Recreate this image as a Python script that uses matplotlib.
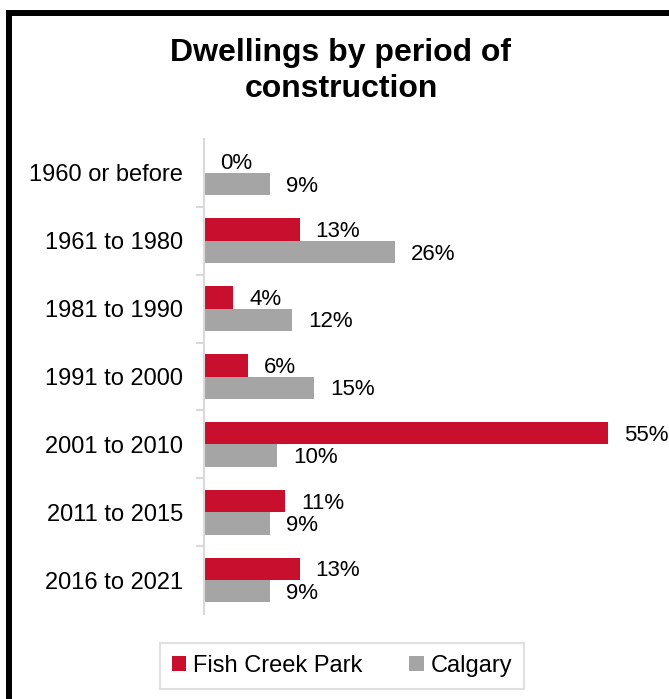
import matplotlib.pyplot as plt
from matplotlib.patches import Rectangle
from matplotlib.ticker import FixedLocator
import numpy as np

plt.rcParams['font.family'] = ['Liberation Sans', 'DejaVu Sans']

periods = ["1960 or before", "1961 to 1980", "1981 to 1990", "1991 to 2000",
           "2001 to 2010", "2011 to 2015", "2016 to 2021"]
fish_creek = [0, 13, 4, 6, 55, 11, 13]
calgary = [9, 26, 12, 15, 10, 9, 9]

RED = "#C8102E"
GRAY = "#A5A5A5"
AXIS = "#D9D9D9"

W, H = 669, 699
fig = plt.figure(figsize=(W / 100, H / 100), dpi=100)
ax = fig.add_axes([204 / W, 85 / H, 416 / W, 475 / H])

y = np.arange(len(periods))
h = 0.33
ax.barh(y - h / 2, fish_creek, height=h, color=RED, label="Fish Creek Park")
ax.barh(y + h / 2, calgary, height=h, color=GRAY, label="Calgary")

for yi, v in zip(y, fish_creek):
    ax.annotate(f"{v}%", (v, yi - h / 2), xytext=(11.5, -1.5), textcoords="offset points",
                ha="left", va="center", fontsize=16)
for yi, v in zip(y, calgary):
    ax.annotate(f"{v}%", (v, yi + h / 2), xytext=(11.5, -1.5), textcoords="offset points",
                ha="left", va="center", fontsize=16)

ax.set_xlim(0, 56.6)
ax.set_ylim(len(periods) - 0.5, -0.5)
ax.set_xticks([])
ax.set_yticks(y)
ax.set_yticklabels(periods, fontsize=17)
ax.tick_params(axis="y", which="major", length=0, pad=15)
ax.yaxis.set_minor_locator(FixedLocator(np.arange(0.5, len(periods) - 1, 1.0)))
ax.tick_params(axis="y", which="minor", length=6, color=AXIS, width=1.5)
for s in ["top", "right", "bottom"]:
    ax.spines[s].set_visible(False)
ax.spines["left"].set_color(AXIS)
ax.spines["left"].set_linewidth(1.5)

fig.text(341 / W, 1 - 71 / H, "Dwellings by period of\nconstruction", ha="center", va="center",
         fontsize=23, fontweight="bold", linespacing=1.25)

leg = fig.legend(loc="center", bbox_to_anchor=(342 / W, 1 - 666 / H), ncol=2, fontsize=17,
                 frameon=True, fancybox=False, handlelength=0.6, handleheight=0.6,
                 handletextpad=0.3, columnspacing=2.0, borderpad=0.5)
leg.get_frame().set_edgecolor(AXIS)
leg.get_frame().set_linewidth(1.5)

fig.patches.append(Rectangle((9 / W, -0.1), 1.2, 1 - 12.5 / H + 0.1, transform=fig.transFigure,
                             fill=False, ec="black", lw=4.3))

fig.savefig("out.png", dpi=100)
